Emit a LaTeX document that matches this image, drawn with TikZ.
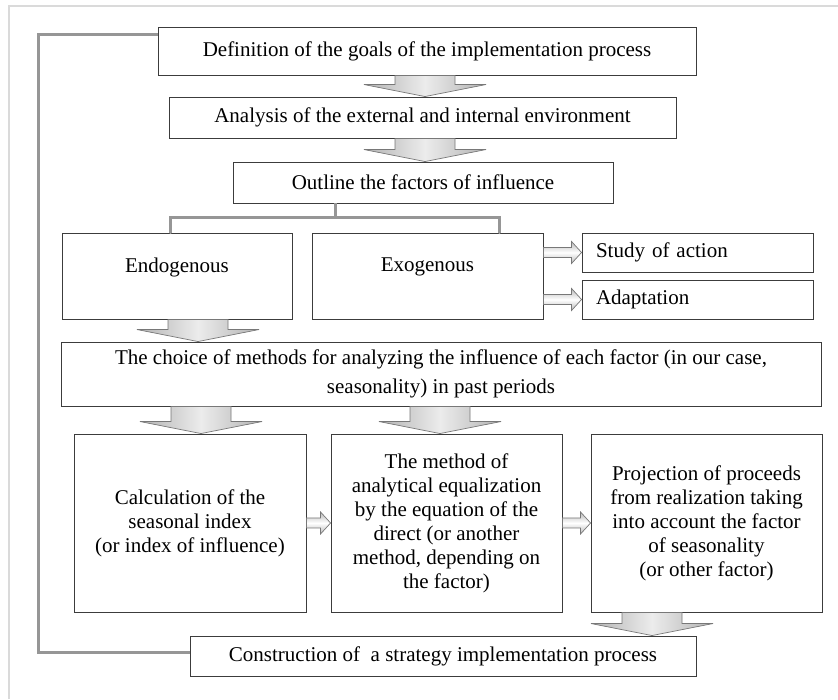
\documentclass[tikz,border=0pt]{standalone}
\usepackage{fontspec}
\setmainfont{Liberation Serif}
\usepackage{tikz}
\usetikzlibrary{calc,positioning}
\usepackage{xcolor}
\definecolor{boxline}{RGB}{60,60,60}
\definecolor{linkgray}{RGB}{150,150,150}
\definecolor{framegray}{RGB}{218,218,218}
\definecolor{arrowedge}{RGB}{120,120,120}
\tikzstyle{stagebox} = [rectangle, draw=boxline, line width=0.9pt, fill=white, inner sep=0pt, align=center, font=\fontsize{21}{24}\selectfont]
\tikzstyle{sidebox} = [stagebox, align=left, text width=203pt, inner xsep=14pt, minimum height=39pt]
\tikzstyle{feedback} = [line width=3pt, color=linkgray]
\tikzstyle{fatarrowstyle} = [draw=arrowedge, line width=0.7pt, left color=gray!60, right color=gray!60, middle color=gray!15]
\tikzstyle{slimarrowstyle} = [draw=arrowedge, line width=0.7pt, top color=gray!55, bottom color=gray!55, middle color=white]
% big block arrow pointing down: #1 top of shaft, #2 tip
\newcommand{\fatarrow}[2]{%
  \path[fatarrowstyle] ($(#1)+(-30,0)$) -- ($(#1)+(30,0)$) -- ($(#2)+(30,12)$) -- ($(#2)+(61,12)$) -- (#2) -- ($(#2)+(-61,12)$) -- ($(#2)+(-30,12)$) -- cycle;}
% small hollow arrow pointing right: #1 start, #2 tip
\newcommand{\slimarrow}[2]{%
  \path[slimarrowstyle] ($(#1)+(0,5)$) -- ($(#2)+(-10,5)$) -- ($(#2)+(-10,11)$) -- (#2) -- ($(#2)+(-10,-11)$) -- ($(#2)+(-10,-5)$) -- ($(#1)+(0,-5)$) -- cycle;}

\begin{document}
\begin{tikzpicture}[x=1pt, y=1pt]
\useasboundingbox (0,0) rectangle (838,699);
% page frame
\draw[framegray, line width=1.5pt] (9,0) -- (9,693) -- (838,693);

% upper chain
\node (goals) [stagebox, minimum width=538pt, minimum height=48pt] at (427,648) {Definition of the goals of the implementation process};
\node (env) [stagebox, minimum width=507pt, minimum height=41pt] at (422.5,581.5) {Analysis of the external and internal environment};
\node (factors) [stagebox, minimum width=380pt, minimum height=41pt] at (423,516.5) {Outline the factors of influence};

% factor groups
\node (endo) [stagebox, minimum width=230pt, minimum height=86pt, text depth=22pt] at (177,423) {Endogenous};
\node (exo) [stagebox, minimum width=231pt, minimum height=86pt, text depth=22pt] at (427.5,423) {Exogenous};
\node (study) [sidebox] at (697.5,446.5) {Study of action};
\node (adapt) [sidebox] at (697.5,399.5) {Adaptation};

% methods
\node (choice) [stagebox, minimum width=760pt, minimum height=64pt, font=\fontsize{21}{29}\selectfont] at (441,325) {The choice of methods for analyzing the influence of each factor (in our case,\\seasonality) in past periods};
\node (index) [stagebox, minimum width=232pt, minimum height=178pt] at (190,176) {Calculation of the\\seasonal index\\(or index of influence)};
\node (equal) [stagebox, minimum width=231pt, minimum height=178pt] at (446.5,176) {The method of\\analytical equalization\\by the equation of the\\direct (or another\\method, depending on\\the factor)};
\node (proj) [stagebox, minimum width=231pt, minimum height=178pt] at (706.5,176) {Projection of proceeds\\from realization taking\\into account the factor\\of seasonality\\(or other factor)};
\node (constr) [stagebox, minimum width=506pt, minimum height=40pt] at (443,43) {Construction of ~a strategy implementation process};

% block arrows
\coordinate (a1) at (425,0);
\coordinate (a2) at (198,0);
\coordinate (a3) at (201,0);
\coordinate (a4) at (440,0);
\coordinate (a5) at (652,0);
\fatarrow{a1 |- goals.south}{a1 |- env.north}
\fatarrow{a1 |- env.south}{a1 |- factors.north}
\fatarrow{a2 |- endo.south}{a2 |- choice.north}
\fatarrow{a3 |- choice.south}{a3 |- index.north}
\fatarrow{a4 |- choice.south}{a4 |- equal.north}
\fatarrow{a5 |- proj.south}{a5 |- constr.north}

% small arrows
\slimarrow{exo.east |- study.west}{study.west}
\slimarrow{exo.east |- adapt.west}{adapt.west}
\slimarrow{index.east}{equal.west}
\slimarrow{equal.east}{proj.west}

% fork to factor groups
\coordinate (fork) at (335,481);
\coordinate (forkL) at (170,481);
\coordinate (forkR) at (499,481);
\draw[feedback] (factors.south -| fork) -- (fork);
\draw[feedback, line cap=round] (endo.north -| forkL) -- (forkL) -- (forkR) -- (exo.north -| forkR);

% return line
\coordinate (loopbot) at (38,47);
\coordinate (looptop) at (38,664);
\draw[feedback] (constr.west |- loopbot) -- (loopbot) -- (looptop) -- (goals.west |- looptop);
\end{tikzpicture}
\end{document}
